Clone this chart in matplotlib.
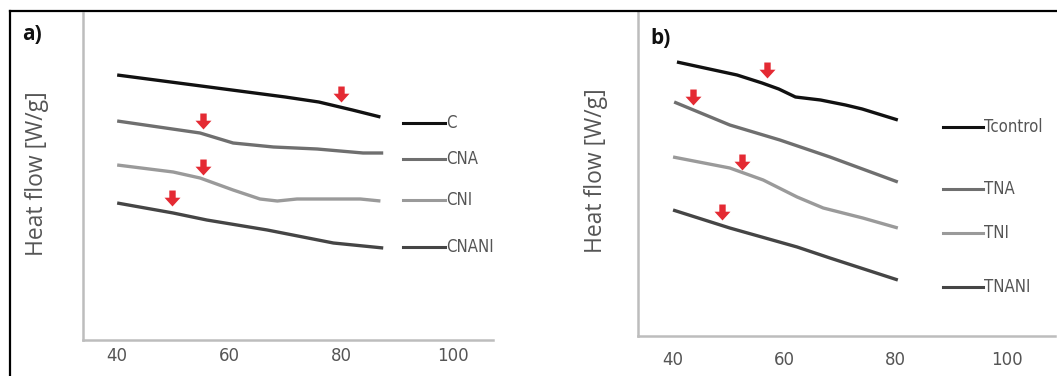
import matplotlib
matplotlib.use("Agg")
import matplotlib.pyplot as plt
from matplotlib.lines import Line2D
from matplotlib.path import Path
from matplotlib import font_manager

W, H = 1057, 376

# ---- panel a: chitosan films ----
a_labels = ["C", "CNA", "CNI", "CNANI"]
a_x = {
    "C":     [40, 55, 70, 76, 82, 87],
    "CNA":   [40, 54.8, 60.7, 67.9, 75.7, 83.9, 87.5],
    "CNI":   [40, 50, 54.8, 60.7, 65.5, 68.6, 72.1, 83.4, 87],
    "CNANI": [40, 50, 56, 66.8, 78.6, 87.5],
}
a_y = {
    "C":     [26.5, 25.4, 24.3, 23.8, 23.0, 22.3],
    "CNA":   [21.9, 20.7, 19.7, 19.3, 19.1, 18.7, 18.7],
    "CNI":   [17.5, 16.8, 16.2, 15.0, 14.1, 13.9, 14.1, 14.1, 13.9],
    "CNANI": [13.7, 12.7, 12.0, 11.0, 9.7, 9.2],
}
a_tg_x = [80.0, 55.4, 55.4, 49.8]
a_tg_y = [24.6, 21.9, 17.3, 14.2]

# ---- panel b: treated films ----
b_labels = ["Tcontrol", "TNA", "TNI", "TNANI"]
b_x = {
    "Tcontrol": [40.7, 51.5, 56, 59, 62, 66.5, 71, 74, 80.4],
    "TNA":      [40.2, 50.2, 59.2, 68.2, 80.4],
    "TNI":      [40, 50.2, 56.2, 62.3, 67, 74.1, 80.4],
    "TNANI":    [40, 50.2, 62.3, 68.2, 80.4],
}
b_y = {
    "Tcontrol": [27.4, 26.1, 25.3, 24.7, 23.9, 23.6, 23.1, 22.7, 21.6],
    "TNA":      [23.4, 21.1, 19.6, 17.9, 15.4],
    "TNI":      [17.9, 16.8, 15.6, 13.9, 12.8, 11.8, 10.8],
    "TNANI":    [12.6, 10.8, 8.9, 7.8, 5.6],
}
b_tg_x = [56.9, 43.6, 52.4, 48.8]
b_tg_y = [26.6, 23.9, 17.4, 12.4]

x_ticks = [40, 60, 80, 100]

line_colors = ["#111111", "#6f6f6f", "#9a9a9a", "#454545"]
arrow_red = "#e42a33"
text_gray = "#555555"
axis_gray = "#bdbdbd"

# condensed face for the key labels, if one is available
names = {f.name for f in font_manager.fontManager.ttflist}
if "Liberation Sans Narrow" in names:
    key_font = dict(family=["Liberation Sans Narrow", "DejaVu Sans"])
else:
    key_font = dict(family=["DejaVu Sans"], fontstretch="condensed")

# block arrow pointing down
arrow_verts = [(-0.2, 0.5), (0.2, 0.5), (0.2, 0.05), (0.5, 0.05), (0.0, -0.5),
               (-0.5, 0.05), (-0.2, 0.05), (-0.2, 0.5)]
arrow_marker = Path(arrow_verts, [Path.MOVETO] + [Path.LINETO] * 6 + [Path.CLOSEPOLY])

fig = plt.figure(figsize=(W / 100, H / 100), dpi=100)
fig.patch.set_facecolor("white")


def px_box(left, top, right, bottom):
    return [left / W, (H - bottom) / H, (right - left) / W, (bottom - top) / H]


def fx(px):
    return px / W


def fy(py):
    return (H - py) / H


def style_axes(ax, xlim, ylim, pad):
    ax.set_xlim(*xlim)
    ax.set_ylim(*ylim)
    for s in ("top", "right"):
        ax.spines[s].set_visible(False)
    for s in ("left", "bottom"):
        ax.spines[s].set_color(axis_gray)
        ax.spines[s].set_linewidth(1.8)
    ax.set_xticks(x_ticks)
    ax.set_xticklabels([str(t) for t in x_ticks])
    ax.set_yticks([])
    ax.tick_params(axis="x", length=0, pad=pad, labelsize=12, labelcolor=text_gray)
    ax.set_facecolor("none")


def draw_panel(ax, labels, xs, ys, tgx, tgy):
    for lab, col in zip(labels, line_colors):
        ax.plot(xs[lab], ys[lab], color=col, lw=2.4, solid_capstyle="butt")
    ax.plot(tgx, tgy, linestyle="none", marker=arrow_marker, markersize=11.5,
            color=arrow_red, markeredgewidth=0)


def draw_key(labels, seg_x0, seg_x1, ys_px):
    for lab, col, py in zip(labels, line_colors, ys_px):
        fig.add_artist(Line2D([fx(seg_x0), fx(seg_x1)], [fy(py), fy(py)],
                              color=col, lw=2.2))
        fig.text(fx(seg_x1 + 1), fy(py), lab, ha="left", va="center",
                 fontsize=12, color=text_gray, **key_font)


def set_ylabel(ax, xpos):
    ax.set_ylabel("Heat flow [W/g]", fontsize=16.5, color=text_gray,
                  family=["Open Sans", "DejaVu Sans"])
    ax.yaxis.set_label_coords(xpos, 0.51)


# panel a
ax_a = fig.add_axes(px_box(83, 13, 493, 340))
style_axes(ax_a, (33.9, 107.1), (0, 32.7), pad=5)
draw_panel(ax_a, a_labels, a_x, a_y, a_tg_x, a_tg_y)
set_ylabel(ax_a, (49 - 83) / 410)
draw_key(a_labels, 403, 445, [123, 159, 200, 247])
fig.text(fx(22), fy(35), "a)", fontsize=15, fontweight="bold", color="#111111",
         ha="left", va="center", family=["Open Sans", "DejaVu Sans"])

# panel b
ax_b = fig.add_axes(px_box(638, 12, 1055, 336))
style_axes(ax_b, (33.7, 108.65), (0, 32.4), pad=11)
draw_panel(ax_b, b_labels, b_x, b_y, b_tg_x, b_tg_y)
set_ylabel(ax_b, (608 - 638) / 417)
draw_key(b_labels, 943, 983, [127, 189, 233, 287])
fig.text(fx(650), fy(38), "b)", fontsize=15, fontweight="bold", color="#111111",
         ha="left", va="center", family=["Open Sans", "DejaVu Sans"])

# outer frame (top and left edges)
fig.add_artist(Line2D([fx(10), 1.0], [fy(11), fy(11)], color="black", lw=1.6))
fig.add_artist(Line2D([fx(10), fx(10)], [fy(11), 0.0], color="black", lw=1.6))

fig.savefig("out.png", dpi=100, facecolor="white")
